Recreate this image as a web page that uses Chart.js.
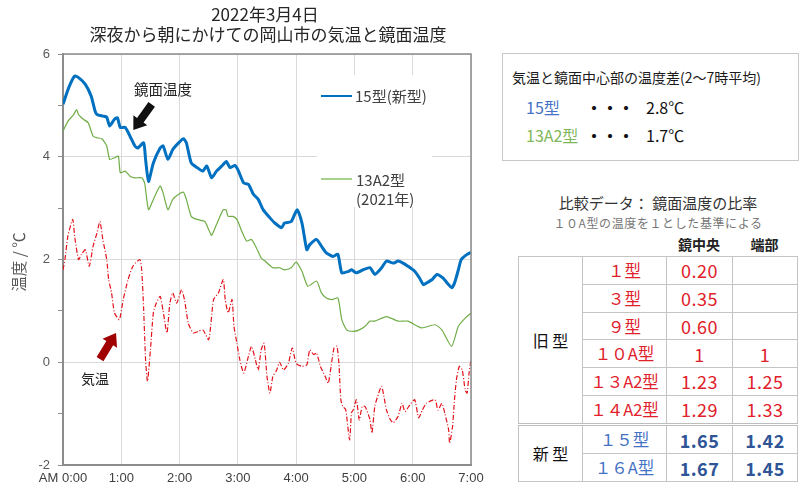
<!DOCTYPE html>
<html>
<head>
<meta charset="utf-8">
<script src="https://cdn.jsdelivr.net/npm/chart.js@4.4.1/dist/chart.umd.min.js"></script>
<style>
body { margin: 0; background: #fff; font-family: "Noto Sans CJK JP", sans-serif; }
#wrap { position: relative; width: 804px; height: 491px; overflow: hidden; background: #fff; }
.t { position: absolute; white-space: nowrap; }
#box { position: absolute; left: 502px; top: 53px; width: 295px; height: 106px; border: 1px solid #c8c8c8; }
#ratio { position: absolute; left: 518px; top: 256px; width: 279px; height: 226px; border-collapse: collapse; table-layout: fixed; }
#ratio td { border: 1px solid #c4c4c4; padding: 0; text-align: center; line-height: 1; }
#ratio .nm { font-size: 16.5px; }
#ratio .val { font-size: 18px; letter-spacing: 0.5px; }
#ratio .old { color: #e0202a; }
#ratio .newn { color: #4472c4; }
#ratio .newv { color: #2f5597; font-weight: bold; }
#ratio .grp { font-size: 16px; color: #111; }
#ratio tr.sep td { border-top: 3px double #bdbdbd; }
</style>
</head>
<body>
<div id="wrap">
  <canvas id="chart" width="490" height="491" style="position:absolute;left:0;top:0"></canvas>

  <div class="t" style="left:0;width:530px;text-align:center;top:3px;font-size:17px;line-height:22px;color:#262626">2022年3月4日</div>
  <div class="t" style="left:0;width:536px;text-align:center;top:23px;font-size:17px;line-height:22px;color:#262626">深夜から朝にかけての岡山市の気温と鏡面温度</div>
  <div class="t" style="left:-27px;top:252px;width:90px;text-align:center;font-size:15.5px;line-height:20px;color:#595959;transform:rotate(-90deg)">温度 / ℃</div>

  <div class="t" style="left:134px;top:79px;font-size:14.5px;line-height:20px;color:#222">鏡面温度</div>
  <div class="t" style="left:81px;top:368px;font-size:14px;line-height:20px;color:#222">気温</div>

  <div class="t" style="left:321px;top:95px;width:31px;height:2px;background:#0070c0"></div>
  <div class="t" style="left:355px;top:86px;font-size:15px;line-height:20px;color:#404040">15型(新型)</div>
  <div class="t" style="left:321px;top:178px;width:31px;height:2px;background:#a9d18e"></div>
  <div class="t" style="left:356px;top:170px;font-size:15px;line-height:20px;color:#404040">13A2型</div>
  <div class="t" style="left:356px;top:189px;font-size:15px;line-height:20px;color:#404040">(2021年)</div>

  <div id="box"></div>
  <div class="t" style="left:512px;top:67px;font-size:14px;line-height:20px;color:#1a1a1a">気温と鏡面中心部の温度差(2～7時平均)</div>
  <div class="t" style="left:526px;top:97px;font-size:16px;line-height:20px;color:#4472c4">15型</div>
  <div class="t" style="left:586px;top:97px;font-size:16px;line-height:20px;font-weight:bold;color:#111">・・・</div>
  <div class="t" style="left:646px;top:97px;font-size:16px;line-height:20px;color:#111">2.8℃</div>
  <div class="t" style="left:526px;top:125px;font-size:16px;line-height:20px;color:#7fb85a">13A2型</div>
  <div class="t" style="left:586px;top:125px;font-size:16px;line-height:20px;font-weight:bold;color:#111">・・・</div>
  <div class="t" style="left:646px;top:125px;font-size:16px;line-height:20px;color:#111">1.7℃</div>

  <div class="t" style="left:540px;width:236px;text-align:center;top:193px;font-size:15px;line-height:20px;color:#333">比較データ： 鏡面温度の比率</div>
  <div class="t" style="left:540px;width:236px;text-align:center;top:214px;font-size:12px;line-height:18px;letter-spacing:0.6px;color:#777">１０A型の温度を１とした基準による</div>
  <div class="t" style="left:666px;width:66px;text-align:center;top:234px;font-size:14px;line-height:20px;font-weight:bold;color:#222">鏡中央</div>
  <div class="t" style="left:732px;width:65px;text-align:center;top:234px;font-size:14px;line-height:20px;font-weight:bold;color:#222">端部</div>

  <table id="ratio"><colgroup><col style="width:64px"><col style="width:84px"><col style="width:66px"><col style="width:65px"></colgroup><tbody id="ratioBody"></tbody></table>
</div>

<script>
// 15型(新型) 鏡面温度  (minutes after 0:00, °C)
var blueTimes = [0,6,12,16,23,29,33,35,41,45,48,53,56,59,64,69,74,77,83,85,88,93,100,103,108,113,119,124,127,132,138,144,148,153,158,165,168,172,177,180,186,191,196,201,206,213,218,225,228,235,241,246,251,254,261,266,271,278,283,287,294,297,302,309,316,321,328,333,340,345,350,355,362,367,371,374,380,385,391,397,400,403,407,410,416,420];
var blueTemps = [5.02,5.35,5.57,5.54,5.41,5.18,4.89,4.82,4.79,4.77,4.60,4.73,4.76,4.57,4.57,4.40,4.21,4.17,4.27,3.95,3.52,3.88,4.17,4.21,3.95,4.14,4.27,4.35,4.27,3.88,3.79,3.72,3.82,3.59,3.72,3.85,3.91,3.79,3.83,3.75,3.49,3.46,3.27,3.17,2.97,2.81,2.71,2.62,2.71,2.74,2.97,2.71,2.19,2.29,2.39,2.26,2.13,2.06,2.10,1.74,1.77,1.80,1.74,1.80,1.84,1.71,1.84,1.97,1.93,1.97,1.93,1.87,1.77,1.64,1.51,1.54,1.61,1.71,1.64,1.51,1.45,1.54,1.80,2.00,2.10,2.14];

// 13A2型(2021年) 鏡面温度
var greenTimes = [0,5,11,14,16,21,26,31,35,40,45,48,53,57,59,64,69,74,81,84,88,93,100,103,108,113,119,124,127,132,138,146,150,153,158,165,168,170,175,179,184,189,194,199,204,208,216,223,228,235,240,246,252,261,266,271,277,283,287,292,299,305,311,316,321,333,345,355,369,383,390,400,407,414,420];
var greenTemps = [4.50,4.69,4.82,4.92,4.82,4.73,4.66,4.40,4.37,4.35,4.21,3.95,3.98,4.01,3.69,3.72,3.62,3.59,3.59,3.49,2.97,3.17,3.43,3.30,2.97,3.17,3.27,3.31,3.17,2.84,2.78,2.74,2.58,2.47,2.68,2.97,2.96,2.84,2.84,2.78,2.55,2.36,2.39,2.23,2.03,1.97,1.84,1.84,1.80,1.84,1.95,1.77,1.48,1.58,1.35,1.25,1.22,1.25,0.83,0.63,0.60,0.63,0.70,0.80,0.80,0.89,0.80,0.80,0.67,0.73,0.63,0.31,0.70,0.86,0.96];

// 気温
var airTimes = [0,2,5,10,12,16,19,23,27,31,35,38,41,45,47,50,53,58,62,67,72,79,81,83,85,87,90,93,96,100,103,107,110,113,117,122,125,129,134,139,144,150,155,160,165,167,170,174,176,179,182,186,190,194,198,201,204,207,210,213,216,220,223,227,232,236,240,246,251,254,258,261,265,270,273,276,279,282,284,286,288,291,295,297,299,302,305,308,311,316,318,321,325,328,330,333,337,340,345,349,352,356,362,366,370,374,383,386,390,393,397,398,401,403,405,408,411,414,416,418,420];
var airTemps = [1.80,2.00,2.45,2.78,2.45,2.00,2.10,2.19,1.87,2.26,2.52,2.74,2.39,2.00,1.61,1.35,0.96,0.83,1.22,1.61,1.87,2.00,1.80,1.04,0.05,-0.37,0.24,0.96,1.15,1.28,1.00,0.57,1.15,1.35,1.15,1.41,1.22,0.76,0.57,0.60,0.63,0.44,1.22,1.35,1.61,1.22,0.96,1.22,0.70,0.37,0.05,-0.21,0.05,0.31,0.05,-0.15,0.24,0.37,-0.28,-0.60,-0.28,-0.15,0.00,-0.15,-0.02,0.28,-0.02,-0.08,-0.05,0.24,0.15,0.18,-0.08,-0.28,-0.41,-0.08,0.28,0.31,-0.02,-0.73,-0.86,-0.92,-1.51,-0.98,-0.92,-0.73,-1.12,-0.86,-0.86,-1.12,-1.38,-0.86,-0.60,-0.47,-0.63,-0.93,-1.12,-1.18,-1.05,-0.80,-0.96,-0.86,-0.73,-1.08,-0.93,-0.80,-0.73,-0.93,-0.80,-0.99,-1.32,-1.58,-1.25,-0.73,-0.34,-0.08,-0.15,-0.54,-0.60,-0.21,0.05];

var hourLabels = ['AM 0:00','1:00','2:00','3:00','4:00','5:00','6:00','7:00'];

// 比率テーブル
var modelNames = ['１型','３型','９型','１０A型','１３A2型','１４A2型','１５型','１６A型'];
var centerRatio = ['0.20','0.35','0.60','1','1.23','1.29','1.65','1.67'];
var edgeRatio = ['','','','1','1.25','1.33','1.42','1.45'];
var oldCount = 6;

function pts(ts, vs) {
  var out = [];
  for (var i = 0; i < ts.length; i++) out.push({x: ts[i], y: vs[i]});
  return out;
}

// table
var body = document.getElementById('ratioBody');
var html = '';
for (var i = 0; i < modelNames.length; i++) {
  var isNew = i >= oldCount;
  html += '<tr' + (i === oldCount ? ' class="sep"' : '') + '>';
  if (i === 0) html += '<td class="grp" rowspan="' + oldCount + '">旧 型</td>';
  if (i === oldCount) html += '<td class="grp" rowspan="' + (modelNames.length - oldCount) + '">新 型</td>';
  html += '<td class="nm ' + (isNew ? 'newn' : 'old') + '">' + modelNames[i] + '</td>';
  html += '<td class="val ' + (isNew ? 'newv' : 'old') + '">' + centerRatio[i] + '</td>';
  html += '<td class="val ' + (isNew ? 'newv' : 'old') + '">' + edgeRatio[i] + '</td>';
  html += '</tr>';
}
body.innerHTML = html;

// arrows in data coords: [tailT, tailV, tipT, tipV, color]
var arrows = [
  [91.3, 5.02, 72.4, 4.52, '#111111'],
  [38.1, 0.06, 54.6, 0.57, '#a00000']
];

var extras = {
  id: 'extras',
  beforeDatasetsDraw: function (chart) {
    var c = chart.ctx;
    c.save();
    c.fillStyle = '#ffffff';
    c.fillRect(305, 75, 164, 73);
    c.fillRect(317, 147, 115, 60);
    c.restore();
  },
  afterDatasetsDraw: function (chart) {
    var c = chart.ctx, xs = chart.scales.x, ys = chart.scales.y;
    arrows.forEach(function (a) {
      var x1 = xs.getPixelForValue(a[0]), y1 = ys.getPixelForValue(a[1]);
      var x2 = xs.getPixelForValue(a[2]), y2 = ys.getPixelForValue(a[3]);
      var dx = x2 - x1, dy = y2 - y1, len = Math.sqrt(dx * dx + dy * dy);
      var ux = dx / len, uy = dy / len, nx = -uy, ny = ux;
      var w = 4, hw = 8.5, hl = 12;
      var bx = x2 - ux * hl, by = y2 - uy * hl;
      c.save();
      c.fillStyle = a[4];
      c.beginPath();
      c.moveTo(x1 + nx * w, y1 + ny * w);
      c.lineTo(bx + nx * w, by + ny * w);
      c.lineTo(bx + nx * hw, by + ny * hw);
      c.lineTo(x2, y2);
      c.lineTo(bx - nx * hw, by - ny * hw);
      c.lineTo(bx - nx * w, by - ny * w);
      c.lineTo(x1 - nx * w, y1 - ny * w);
      c.closePath();
      c.fill();
      c.restore();
    });
  },
  afterDraw: function (chart) {
    var c = chart.ctx, a = chart.chartArea;
    c.save();
    c.strokeStyle = '#8c8c8c';
    c.lineWidth = 1.5;
    c.beginPath();
    c.moveTo(a.left, a.top);
    c.lineTo(a.right, a.top);
    c.lineTo(a.right, a.bottom);
    c.stroke();
    c.restore();
  }
};

new Chart(document.getElementById('chart'), {
  type: 'line',
  data: {
    datasets: [
      {
        label: '気温',
        data: pts(airTimes, airTemps),
        borderColor: '#e3121b',
        borderWidth: 1.2,
        borderDash: [5, 2, 1, 2],
        pointRadius: 0,
        tension: 0.2
      },
      {
        label: '13A2型(2021年)',
        data: pts(greenTimes, greenTemps),
        borderColor: '#70ad47',
        borderWidth: 1.2,
        pointRadius: 0,
        tension: 0.2
      },
      {
        label: '15型(新型)',
        data: pts(blueTimes, blueTemps),
        borderColor: '#0070c0',
        borderWidth: 3,
        pointRadius: 0,
        tension: 0.2
      }
    ]
  },
  options: {
    responsive: false,
    animation: false,
    devicePixelRatio: 1,
    layout: { padding: { top: 54, right: 19, bottom: 0, left: 0 } },
    plugins: { legend: { display: false }, tooltip: { enabled: false } },
    scales: {
      x: {
        type: 'linear',
        min: 0,
        max: 420,
        afterFit: function (s) { s.height = 26; },
        ticks: {
          stepSize: 60,
          padding: 6,
          color: '#404040',
          font: { family: 'Liberation Sans', size: 13 },
          maxRotation: 0,
          callback: function (v) { return hourLabels[v / 60]; }
        },
        grid: { color: '#d9d9d9', drawTicks: false },
        border: { color: '#8c8c8c', width: 2 }
      },
      y: {
        min: -2,
        max: 6,
        afterFit: function (s) { s.width = 63; },
        ticks: {
          stepSize: 1,
          padding: 8,
          color: '#595959',
          font: { family: 'Liberation Sans', size: 13 },
          callback: function (v) { return v % 2 === 0 ? String(v) : ''; }
        },
        grid: {
          color: function (ctx) { return ctx.tick && ctx.tick.value % 2 === 0 ? '#d9d9d9' : 'rgba(0,0,0,0)'; },
          tickColor: '#8c8c8c',
          tickLength: 5
        },
        border: { color: '#8c8c8c', width: 2 }
      }
    }
  },
  plugins: [extras]
});
</script>
</body>
</html>
